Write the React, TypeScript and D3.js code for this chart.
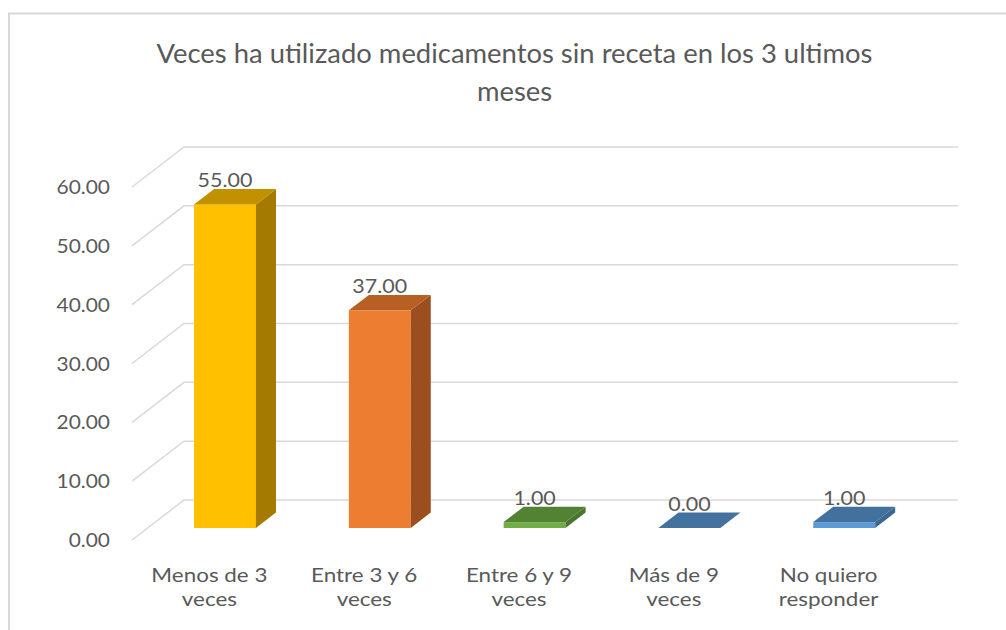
import React from "react";
import * as d3 from "d3";

const titleLines = ["Veces ha utilizado medicamentos sin receta en los 3 ultimos", "meses"];
const categories = ["Menos de 3 veces", "Entre 3 y 6 veces", "Entre 6 y 9 veces", "Más de 9 veces", "No quiero responder"];
const categoryLines = [["Menos de 3", "veces"], ["Entre 3 y 6", "veces"], ["Entre 6 y 9", "veces"], ["Más de 9", "veces"], ["No quiero", "responder"]];
const values = [55, 37, 1, 0, 1];
const yTicks = [0, 10, 20, 30, 40, 50, 60];
const frontColors = ["#FFC000", "#ED7D31", "#70AD47", "#44729F", "#5B9BD5"];
const topColors = ["#C29100", "#B85F24", "#548235", "#44729F", "#41719C"];
const sideColors = ["#A47B00", "#9C4F1E", "#4A7530", "#3A6890", "#3A6890"];

const W = 1006;
const H = 630;
const FONT = "Lato, 'Open Sans', sans-serif";
const TXT = "#595959";

function ST({ x, y, sx, size, anchor, children }: any) {
  return (
    <text
      transform={`translate(${x},${y}) scale(${sx},1)`}
      textAnchor={anchor}
      fontFamily={FONT}
      fontSize={size}
      fill={TXT}
    >
      {children}
    </text>
  );
}

export default function App() {
  const x = d3.scaleBand<string>().domain(categories).range([132, 906]);
  const y = d3.scaleLinear().domain([0, 60]).range([540, 187]);
  const depthX = 52;
  const depthY = -40;
  const barStart = 0.3;
  const barDepth = 0.385;
  const bw = x.bandwidth();
  const barW = bw * 0.4;
  const bdx = depthX * barDepth;
  const bdy = depthY * barDepth;
  const backRight = x.range()[1] + depthX;

  return (
    <svg width={W} height={H} style={{ position: "absolute", left: 0, top: 0, background: "#fff" }}>
      <rect x={0} y={0} width={W} height={H} fill="#fff" />
      <rect x={9} y={13.5} width={1200} height={800} fill="#fff" stroke="#d9d9d9" strokeWidth={2} />
      {titleLines.map((t, i) => (
        <ST key={i} x={514.5} y={63 + i * 38} sx={1.016} size={27} anchor="middle">
          {t}
        </ST>
      ))}
      {yTicks.map((t) => {
        const yf = y(t);
        return (
          <g key={t}>
            <path
              d={`M${x.range()[0]},${yf}L${x.range()[0] + depthX},${yf + depthY}L${backRight},${yf + depthY}`}
              fill="none"
              stroke="#d9d9d9"
              strokeWidth={1.5}
            />
            <ST x={110} y={yf + 7} sx={1.1} size={19} anchor="end">
              {t.toFixed(2)}
            </ST>
          </g>
        );
      })}
      {categories.map((c, i) => {
        const v = values[i];
        const cx = (x(c) as number) + bw / 2 + depthX * barStart;
        const x0 = cx - barW / 2;
        const x1 = cx + barW / 2;
        const yb = y(0) + depthY * barStart;
        const yt = y(v) + depthY * barStart;
        const top = `M${x0},${yt}L${x1},${yt}L${x1 + bdx},${yt + bdy}L${x0 + bdx},${yt + bdy}Z`;
        const side = `M${x1},${yt}L${x1 + bdx},${yt + bdy}L${x1 + bdx},${yb + bdy}L${x1},${yb}Z`;
        return (
          <g key={c}>
            {v > 0 && <rect x={x0} y={yt} width={barW} height={yb - yt} fill={frontColors[i]} />}
            {v > 0 && <path d={side} fill={sideColors[i]} />}
            <path d={top} fill={topColors[i]} />
            <ST x={cx} y={yt + bdy - 2} sx={1.13} size={19} anchor="middle">
              {v.toFixed(2)}
            </ST>
          </g>
        );
      })}
      {categories.map((c, i) => (
        <g key={c} transform={`translate(${(x(c) as number) + bw / 2},0) scale(1.15,1)`}>
          <text textAnchor="middle" fontFamily={FONT} fontSize={19.5} fill={TXT}>
            {categoryLines[i].map((ln, j) => (
              <tspan key={j} x={0} y={582 + j * 24.5}>
                {ln}
              </tspan>
            ))}
          </text>
        </g>
      ))}
    </svg>
  );
}
